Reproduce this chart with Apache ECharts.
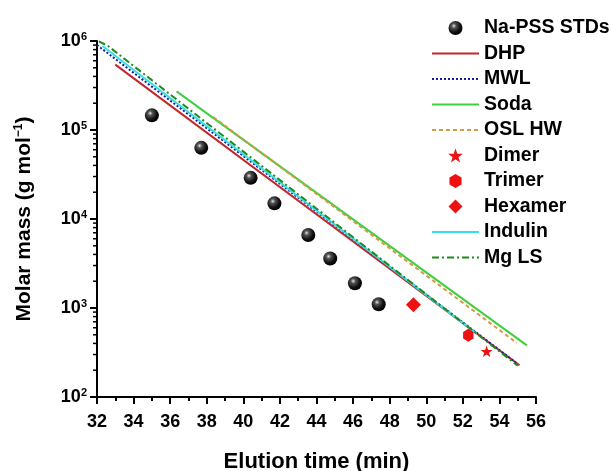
<!DOCTYPE html>
<html>
<head>
<meta charset="utf-8">
<script src="https://cdn.jsdelivr.net/npm/echarts@6/dist/echarts.min.js"></script>
<style>html,body{margin:0;padding:0;background:#fff}#c{width:613px;height:471px}</style>
</head>
<body>
<div id="c"></div>
<script>
// ---- data ----
const naPssTime = [35.0, 37.7, 40.4, 41.7, 43.55, 44.75, 46.1, 47.4];
const naPssMass = [146000, 63000, 29000, 15000, 6600, 3600, 1900, 1100];

const dhpTime = [33.0, 55.1];
const dhpMass = [543000, 227];
const mwlTime = [32.0, 55.0];
const mwlMass = [900000, 235];
const sodaTime = [36.35, 55.5];
const sodaMass = [272000, 380];
const oslTime = [38.35, 54.95];
const oslMass = [140000, 405];
const indulinTime = [32.3, 52.75];
const indulinMass = [880000, 515];
const mgTime = [32.1, 32.6, 55.0];
const mgMass = [990000, 880000, 225];

const dimerPt = [53.3, 326];
const trimerPt = [52.3, 495];
const hexamerPt = [49.3, 1090];

const legendNames = ['Na-PSS STDs', 'DHP', 'MWL', 'Soda', 'OSL HW', 'Dimer', 'Trimer', 'Hexamer', 'Indulin', 'Mg LS'];
const lineNames = ['DHP', 'MWL', 'Soda', 'OSL HW', 'Indulin', 'Mg LS'];

const yMinorValues = [];
[100, 1000, 10000, 100000].forEach(function (d) {
  for (let k = 2; k <= 9; k++) yMinorValues.push(k * d);
});

const FONT = 'Liberation Sans';
const zip = (a, b) => a.map((v, i) => [v, b[i]]);

const hexPath = 'path://M0,-10L8.66,-5L8.66,5L0,10L-8.66,5L-8.66,-5Z';
const starPath = 'path://M0,-10L2.35,-3.24L9.51,-3.09L3.8,1.24L5.88,8.09L0,4L-5.88,8.09L-3.8,1.24L-9.51,-3.09L-2.35,-3.24Z';
const diamondPath = 'path://M0,-10L10,0L0,10L-10,0Z';

const sphere = {
  type: 'radial', x: 0.38, y: 0.35, r: 0.65,
  colorStops: [
    { offset: 0, color: '#e8e8e8' },
    { offset: 0.25, color: '#555' },
    { offset: 0.7, color: '#111' },
    { offset: 1, color: '#000' }
  ]
};

function lineSeries(name, t, m, color, type, z) {
  return {
    name: name, type: 'line', data: zip(t, m), symbol: 'none', z: z,
    lineStyle: { color: color, width: 2, type: type },
    itemStyle: { color: color }, silent: true, animation: false
  };
}

const RED = '#ee1111';

const chart = echarts.init(document.getElementById('c'), null, { renderer: 'canvas' });
chart.setOption({
  animation: false,
  backgroundColor: '#fff',
  grid: { left: 97, right: 77, top: 41, bottom: 74, containLabel: false, outerBoundsMode: 'none' },
  legend: {
    orient: 'vertical', left: 426, top: 13, itemWidth: 47, itemHeight: 14, itemGap: 5.5,
    textStyle: { fontFamily: FONT, fontWeight: 'bold', fontSize: 19.5, color: '#000', lineHeight: 20 },
    data: legendNames.map(n => lineNames.indexOf(n) >= 0
      ? { name: n, itemStyle: { opacity: 0 } }
      : { name: n })
  },
  xAxis: {
    type: 'value', min: 32, max: 56, interval: 2,
    name: 'Elution time (min)', nameLocation: 'middle', nameGap: 54, nameMoveOverlap: false,
    nameTextStyle: { fontFamily: FONT, fontWeight: 'bold', fontSize: 22, color: '#000' },
    axisLine: { show: true, onZero: false, lineStyle: { color: '#000', width: 2 } },
    axisTick: { show: true, length: 7, lineStyle: { color: '#000', width: 2 } },
    minorTick: { show: true, splitNumber: 2, length: 4, lineStyle: { color: '#000', width: 2 } },
    splitLine: { show: false },
    axisLabel: { margin: 16, fontFamily: FONT, fontWeight: 'bold', fontSize: 18, color: '#000' }
  },
  yAxis: {
    type: 'log', logBase: 10, min: 100, max: 1000000,
    name: '{t|Molar mass (g mol}{s|−1}{t|)}', nameLocation: 'middle', nameGap: 62, nameRotate: 90,
    nameMoveOverlap: false,
    nameTextStyle: {
      fontFamily: FONT, fontWeight: 'bold', fontSize: 21, color: '#000',
      rich: {
        t: { fontFamily: FONT, fontWeight: 'bold', fontSize: 21, color: '#000' },
        s: { fontFamily: FONT, fontWeight: 'bold', fontSize: 12, color: '#000', padding: [0, 0, 10, 0] }
      }
    },
    axisLine: { show: true, onZero: false, lineStyle: { color: '#000', width: 2 } },
    axisTick: { show: true, length: 7, lineStyle: { color: '#000', width: 2 } },
    splitLine: { show: false },
    axisLabel: {
      margin: 10, color: '#000',
      formatter: function (v) { return '{b|10}{s|' + Math.round(Math.log10(v)) + '}'; },
      rich: {
        b: { fontFamily: FONT, fontWeight: 'bold', fontSize: 18, color: '#000' },
        s: { fontFamily: FONT, fontWeight: 'bold', fontSize: 11, color: '#000', padding: [0, 0, 9, 0] }
      }
    }
  },
  series: [
    {
      name: 'Na-PSS STDs', type: 'scatter', data: zip(naPssTime, naPssMass),
      symbol: 'circle', symbolSize: 14, z: 5,
      itemStyle: { color: sphere, opacity: 1 }
    },
    lineSeries('DHP', dhpTime, dhpMass, '#c0282d', 'solid', 2),
    lineSeries('MWL', mwlTime, mwlMass, '#1a1aa0', [2, 2], 2),
    lineSeries('Soda', sodaTime, sodaMass, '#3fcf3f', 'solid', 2),
    lineSeries('OSL HW', oslTime, oslMass, '#d49a45', [4, 3], 3),
    {
      name: 'Dimer', type: 'scatter', data: [dimerPt], symbol: starPath, symbolSize: 12, z: 6,
      symbolKeepAspect: true, itemStyle: { color: RED, opacity: 1 }
    },
    {
      name: 'Trimer', type: 'scatter', data: [trimerPt], symbol: hexPath, symbolSize: [12, 13], z: 6,
      symbolKeepAspect: true, itemStyle: { color: RED, opacity: 1 }
    },
    {
      name: 'Hexamer', type: 'scatter', data: [hexamerPt], symbol: diamondPath, symbolSize: 15, z: 6,
      symbolKeepAspect: true, itemStyle: { color: RED, opacity: 1 }
    },
    lineSeries('Indulin', indulinTime, indulinMass, '#38e0e6', 'solid', 2),
    lineSeries('Mg LS', mgTime, mgMass, '#1e8a1e', [7, 3, 2, 3], 3),
    {
      type: 'custom', silent: true, z: 4, clip: false,
      data: yMinorValues.map(v => [32, v]),
      encode: { x: 0, y: 1 },
      renderItem: function (params, api) {
        const p = api.coord([32, api.value(1)]);
        return {
          type: 'line',
          shape: { x1: p[0] - 4, y1: p[1], x2: p[0], y2: p[1] },
          style: { stroke: '#000', lineWidth: 1.5 }
        };
      }
    }
  ]
});
</script>
</body>
</html>
